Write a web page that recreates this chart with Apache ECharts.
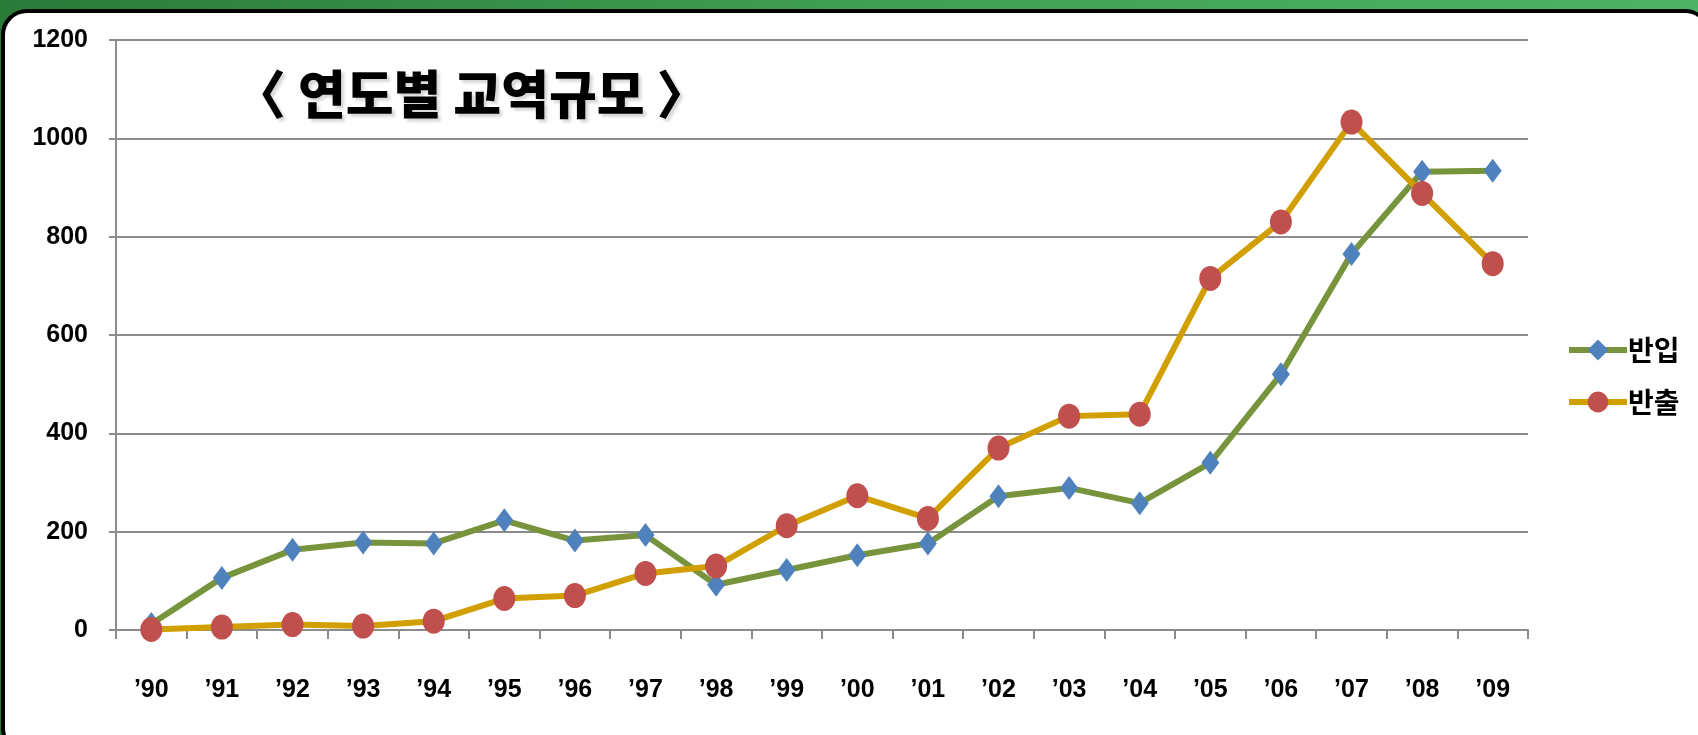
<!DOCTYPE html>
<html>
<head>
<meta charset="utf-8">
<script src="https://cdn.jsdelivr.net/npm/echarts@6/dist/echarts.min.js"></script>
<style>
  html, body { margin: 0; padding: 0; width: 1698px; height: 735px; overflow: hidden; }
  body { background: linear-gradient(90deg, #2a7a3a 0%, #3f9e52 50%, #4db366 100%); position: relative; }
  #panel { position: absolute; left: 1px; top: 9px; width: 1710px; height: 745px; background: #fff;
           border: 4px solid #000; border-radius: 26px; box-sizing: border-box; }
  #chart { position: absolute; left: 0; top: 0; width: 1698px; height: 735px; }
</style>
</head>
<body>
<div id="panel"></div>
<div id="chart"></div>
<script>
const categories = ["’90","’91","’92","’93","’94","’95","’96","’97","’98","’99","’00","’01","’02","’03","’04","’05","’06","’07","’08","’09"];
const importValues = [12, 106, 163, 178, 176, 223, 182, 193, 92, 122, 152, 176, 272, 289, 258, 340, 520, 765, 932, 934];
const exportValues = [1, 6, 11, 8, 18, 64, 70, 115, 130, 212, 273, 227, 370, 435, 439, 715, 830, 1033, 888, 745];
const yTicks = { min: 0, max: 1200, interval: 200 };
const seriesNames = ["반입", "반출"];
const titleText = "〈 연도별 교역규모 〉";

const chart = echarts.init(document.getElementById('chart'), null, { renderer: 'canvas' });
const fontLatin = '"Liberation Sans", Arial, sans-serif';
const fontKr = '"Noto Sans CJK KR", "Noto Sans", sans-serif';
chart.setOption({
  backgroundColor: 'transparent',
  animation: false,
  title: {
    text: titleText,
    left: 229, top: 63,
    textStyle: {
      fontFamily: fontKr, fontWeight: 900, fontSize: 52, color: '#000',
      textShadowColor: 'rgba(0,0,0,0.16)', textShadowOffsetX: 3, textShadowOffsetY: 3, textShadowBlur: 3
    }
  },
  grid: { left: 116, right: 170, top: 40, bottom: 105, containLabel: false },
  legend: {
    orient: 'vertical', left: 1561, top: 331,
    itemWidth: 58, itemHeight: 26, itemGap: 24,
    data: seriesNames,
    lineStyle: { width: 6 },
    textStyle: { fontFamily: fontKr, fontWeight: 'bold', fontSize: 28, color: '#000', padding: [0, 0, 0, -4] }
  },
  xAxis: {
    type: 'category', data: categories, boundaryGap: true,
    axisLine: { lineStyle: { color: '#8c8c8c', width: 2 } },
    axisTick: { show: true, length: 9, lineStyle: { color: '#8c8c8c', width: 2 }, alignWithLabel: false },
    axisLabel: { margin: 48, fontFamily: fontLatin, fontWeight: 'bold', fontSize: 25, color: '#000' },
    splitLine: { show: false }
  },
  yAxis: {
    type: 'value', min: yTicks.min, max: yTicks.max, interval: yTicks.interval,
    axisLine: { show: true, lineStyle: { color: '#8c8c8c', width: 2 } },
    axisTick: { show: true, length: 7, lineStyle: { color: '#8c8c8c', width: 2 } },
    axisLabel: { margin: 28, fontFamily: fontLatin, fontWeight: 'bold', fontSize: 25, color: '#000',
                 formatter: function (v) { return String(v); } },
    splitLine: { show: true, lineStyle: { color: '#8c8c8c', width: 2 } }
  },
  series: [
    {
      name: seriesNames[0], type: 'line', data: importValues,
      symbol: 'diamond', symbolSize: [18, 24],
      lineStyle: { color: '#77933C', width: 6 },
      itemStyle: { color: '#4F81BD' },
      z: 2
    },
    {
      name: seriesNames[1], type: 'line', data: exportValues,
      symbol: 'circle', symbolSize: [22, 25],
      lineStyle: { color: '#D29F00', width: 6 },
      itemStyle: { color: '#C0504D' },
      z: 3
    }
  ]
});
</script>
</body>
</html>
